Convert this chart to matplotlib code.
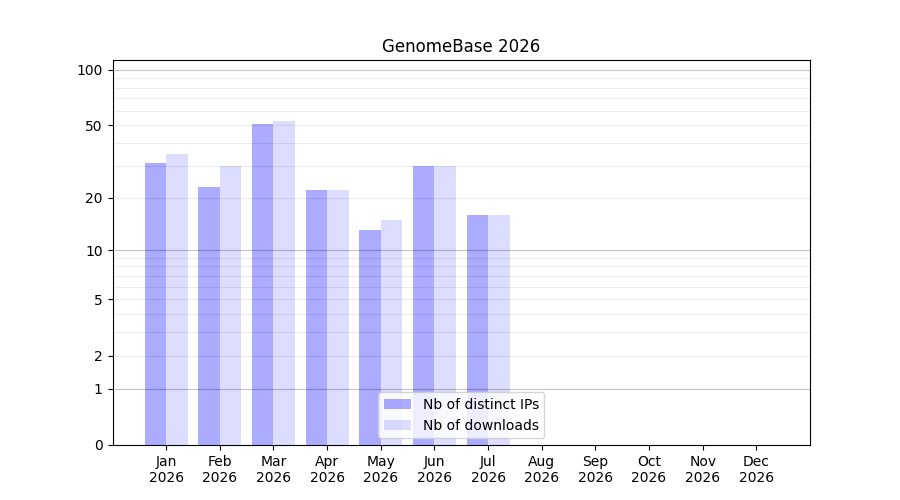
import numpy as np
import matplotlib
matplotlib.use("Agg")
import matplotlib.pyplot as plt

# monthly stats
months = ["Jan", "Feb", "Mar", "Apr", "May", "Jun", "Jul", "Aug", "Sep", "Oct", "Nov", "Dec"]
year = "2026"
nb_ips = [31, 23, 51, 22, 13, 30, 16, 0, 0, 0, 0, 0]
nb_downloads = [35, 30, 53, 22, 15, 30, 16, 0, 0, 0, 0, 0]
ytick_values = [0, 1, 2, 5, 10, 20, 50, 100]

def forward(y):
    return np.log10(np.asarray(y) + 1.0)

def inverse(y):
    return 10.0 ** np.asarray(y) - 1.0

fig, ax = plt.subplots(figsize=(9, 5), dpi=100)
x = np.arange(len(months))
w = 0.4
ax.bar(x - w / 2, nb_ips, width=w, color="blue", alpha=0.33, label="Nb of distinct IPs")
ax.bar(x + w / 2, nb_downloads, width=w, color="blue", alpha=0.135, label="Nb of downloads")

ax.set_yscale("function", functions=(forward, inverse))
ax.set_ylim(0, 113)
ax.set_xlim(-1, 12)
ax.set_yticks(ytick_values)
ax.set_yticklabels([str(v) for v in ytick_values])
ax.minorticks_off()

# light lines at every 2..9 and 20..90, darker at decades
for v in list(range(2, 10)) + list(range(20, 100, 10)):
    ax.axhline(v, color="black", alpha=0.08, linewidth=0.8, zorder=1.5)
for v in [1, 10, 100]:
    ax.axhline(v, color="black", alpha=0.22, linewidth=0.9, zorder=1.5)

ax.set_xticks(x)
ax.set_xticklabels([m + "\n" + year for m in months])
ax.set_title("GenomeBase 2026")
ax.legend(loc="lower center")

fig.savefig("out.png")
